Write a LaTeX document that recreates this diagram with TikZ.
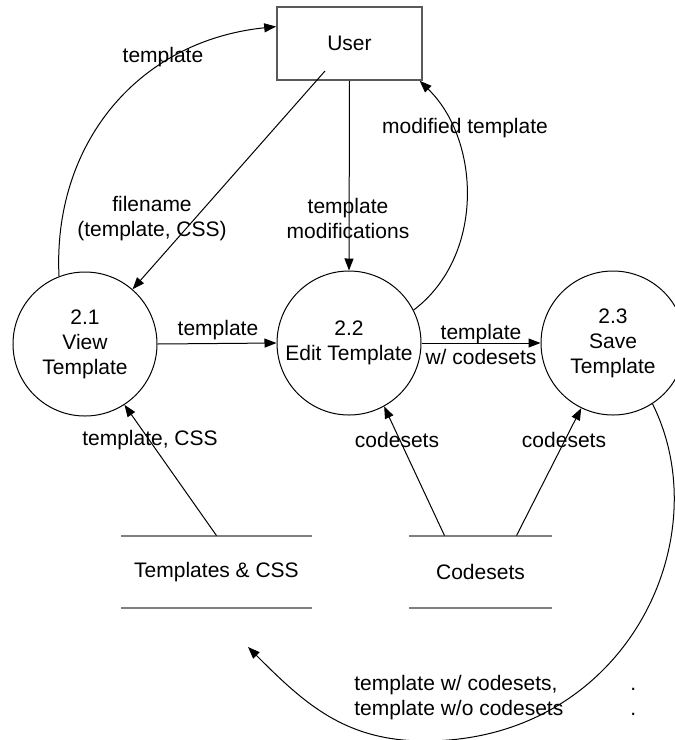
\documentclass[tikz,border=0pt]{standalone}
\usepackage{fontspec}
\setmainfont{Liberation Sans}
\usetikzlibrary{arrows.meta,calc}

\begin{document}
\begin{tikzpicture}[x=0.5pt, y=-0.5pt,
  every node/.style={font=\fontsize{10.5}{12.5}\selectfont},
  entity/.style={draw=gray!70!black, line width=0.8pt, minimum width=72.5pt, minimum height=36.5pt},
  process/.style={draw, circle, line width=0.5pt, minimum size=72pt, inner sep=0pt, align=center},
  store/.style={minimum height=36pt, inner sep=0pt},
  storeline/.style={draw=gray, line width=1pt},
  flow/.style={line width=0.5pt, -{Triangle[length=6pt, width=4.5pt]}},
  lbl/.style={align=center, inner sep=0pt}]
  \useasboundingbox (0,0) rectangle (675,740);
  \node[entity] (user) at (349.5,43.5) {User};
  \node[process] (v21) at (85,344) {2.1\\View\\Template};
  \node[process] (v22) at (349,343) {2.2\\Edit Template};
  \node[process] (v23) at (613,343) {2.3\\Save\\Template};
  \node[store, minimum width=95.5pt] (tcss) at (216.5,572) {Templates \& CSS};
  \node[store, minimum width=71.5pt] (cs) at (480.5,572) {Codesets};
  \draw[storeline] (tcss.north west) -- (tcss.north east);
  \draw[storeline] (tcss.south west) -- (tcss.south east);
  \draw[storeline] (cs.north west) -- (cs.north east);
  \draw[storeline] (cs.south west) -- (cs.south east);
  \coordinate (fnstart) at (325,71);
  \coordinate (back) at (248,647);
  \draw[flow] (v21.111) .. controls (52.5,146) and (136,41) .. (user.167);
  \draw[flow] (fnstart) -- (v21.49);
  \draw[flow] (user.south) -- (v22.north);
  \draw[flow] (v22.27) .. controls (485,256) and (480.7,140.2) .. (user.-28.5);
  \draw[flow] (v21.east) -- (v22.west);
  \draw[flow] (v22.east) -- (v23.west);
  \draw[flow] (tcss.north) -- (v21.-57);
  \draw[flow] ($(cs.north)+(-36,0)$) -- (v22.-61);
  \draw[flow] ($(cs.north)+(36,0)$) -- (v23.-116);
  \draw[flow] (v23.-57) .. controls (720.5,540) and (625,741) .. (425,741) .. controls (345,741) and (304.6,703.6) .. (back);
  \node[lbl] (l1) at (163,57) {template};
  \node[lbl] (l2) at (152,219) {filename\\(template, CSS)};
  \node[lbl] (l3) at (348,218) {template\\modifications};
  \node[lbl] (l4) at (465,128) {modified template};
  \node[lbl] (l5) at (218,330) {template};
  \node[lbl] (l6) at (481,344) {template\\w/ codesets};
  \node[lbl] (l7) at (150,440) {template, CSS};
  \node[lbl] (l8) at (397,440) {codesets};
  \node[lbl] (l9) at (564,440) {codesets};
  \node[lbl, anchor=west] (l10) at (354,697.5) {\begin{tabular}{@{}l@{\hspace{33.5pt}}l@{}}template w/ codesets, & .\\template w/o codesets & .\end{tabular}};
\end{tikzpicture}
\end{document}
